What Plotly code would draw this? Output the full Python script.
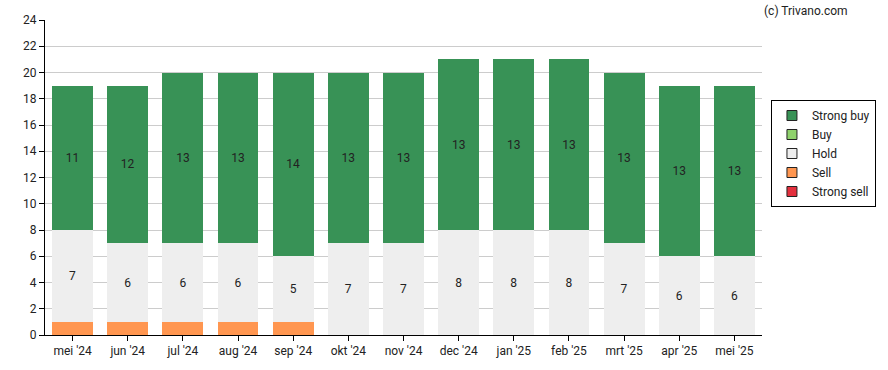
import plotly.graph_objects as go

months = ["mei '24", "jun '24", "jul '24", "aug '24", "sep '24", "okt '24", "nov '24",
          "dec '24", "jan '25", "feb '25", "mrt '25", "apr '25", "mei '25"]
strong_sell = [0, 0, 0, 0, 0, 0, 0, 0, 0, 0, 0, 0, 0]
sell = [1, 1, 1, 1, 1, 0, 0, 0, 0, 0, 0, 0, 0]
hold = [7, 6, 6, 6, 5, 7, 7, 8, 8, 8, 7, 6, 6]
buy = [0, 0, 0, 0, 0, 0, 0, 0, 0, 0, 0, 0, 0]
strong_buy = [11, 12, 13, 13, 14, 13, 13, 13, 13, 13, 13, 13, 13]

font = "Roboto, Arial, sans-serif"

def lbl(vals, show=True):
    return [str(v) if (v > 1 and show) else "" for v in vals]

fig = go.Figure()
series = [
    ("Strong sell", strong_sell, "#E4303E", False),
    ("Sell", sell, "#FF9650", False),
    ("Hold", hold, "#EEEEEE", True),
    ("Buy", buy, "#8FD16C", True),
    ("Strong buy", strong_buy, "#389256", True),
]
for name, vals, color, show in series:
    fig.add_trace(go.Bar(
        x=months, y=vals, name=name, showlegend=False,
        marker=dict(color=color, line=dict(width=0)),
        text=lbl(vals, show), textposition="inside", insidetextanchor="middle",
        textangle=0, textfont=dict(color="#222222", size=12, family=font),
        hoverinfo="skip",
    ))
# legend entries with outlined square swatches
for name, vals, color, show in series:
    fig.add_trace(go.Scatter(
        x=[months[0]], y=[None], name=name, mode="markers",
        marker=dict(symbol="square", size=10, color=color,
                    line=dict(color="#222222", width=1)),
        hoverinfo="skip",
    ))

fig.update_layout(
    barmode="stack",
    bargap=0.26,
    width=888, height=370,
    margin=dict(l=45, r=120, t=20, b=35),
    paper_bgcolor="white", plot_bgcolor="white",
    font=dict(family=font, size=12, color="#222222"),
    uniformtext=dict(minsize=8, mode="show"),
    legend=dict(
        traceorder="reversed",
        x=1.0125, y=0.746, xanchor="left", yanchor="top",
        bordercolor="#000000", borderwidth=1,
        font=dict(size=12, family=font),
        itemwidth=30, tracegroupgap=0,
    ),
    xaxis=dict(
        range=[-0.5, len(months) - 0.5],
        showline=True, linecolor="#000000", linewidth=1,
        ticks="outside", ticklen=5, tickcolor="#000000",
        showgrid=False,
    ),
    yaxis=dict(
        range=[0, 24], dtick=2,
        showline=True, linecolor="#000000", linewidth=1,
        ticks="outside", ticklen=5, tickcolor="#000000",
        gridcolor="#CCCCCC", gridwidth=1, zeroline=False,
    ),
    annotations=[dict(
        text="(c) Trivano.com", xref="paper", yref="paper",
        x=1.0 + 89/723, y=1.0 + 18/315, xanchor="right", yanchor="top",
        showarrow=False, font=dict(size=12, family=font, color="#222222"),
    )],
)

fig.write_html("out.html", config={"displayModeBar": False},
               post_script="document.body.style.margin='0';")
